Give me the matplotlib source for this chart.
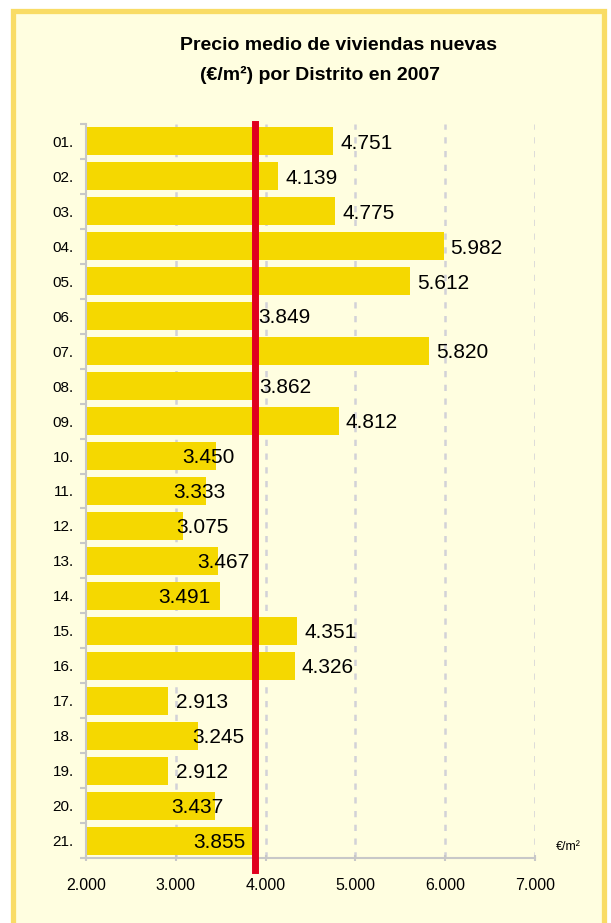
import matplotlib.pyplot as plt
from matplotlib.patches import Rectangle
import matplotlib.transforms as mtransforms
import numpy as np

plt.rcParams['font.family'] = ['Liberation Sans', 'DejaVu Sans']

districts = ["01.", "02.", "03.", "04.", "05.", "06.", "07.", "08.", "09.", "10.",
             "11.", "12.", "13.", "14.", "15.", "16.", "17.", "18.", "19.", "20.", "21."]
prices = [4751, 4139, 4775, 5982, 5612, 3849, 5820, 3862, 4812, 3450,
          3333, 3075, 3467, 3491, 4351, 4326, 2913, 3245, 2912, 3437, 3855]
madrid_avg = 3887
xticks = [2000, 3000, 4000, 5000, 6000, 7000]

# label offsets (pixels from bar end), some labels were moved by hand
label_shift = [7, 7, 7, 7, 7, 6, 7, 6, 7, -34,
               -32, -6, -20, -62, 7, 7, 8, -6, 8, -44, -59]

BG = '#FFFEE0'
BORDER = '#F9DC66'
BAR = '#F5D800'
RED = '#E0001E'
GRID = '#D2D2D8'


def fmt(v):
    return f"{v:,}".replace(",", ".")


fig = plt.figure(figsize=(6.11, 9.23), dpi=100, facecolor='white')
fig.patches.append(Rectangle((12.5 / 611, -0.02), (604 - 12.5) / 611, 1.02 - 11.5 / 923,
                             transform=fig.transFigure, facecolor=BG, edgecolor=BORDER,
                             linewidth=3.8, zorder=-1))

ax = fig.add_axes([86 / 611, 65 / 923, 449 / 611, 734 / 923])
ax.set_facecolor('none')

y = np.arange(len(districts))
ax.barh(y, [p - 2000 for p in prices], left=2000, height=0.8, color=BAR, zorder=2)

ax.set_xlim(2000, 7000)
ax.set_ylim(len(districts) - 0.5, -0.5)

ax.set_xticks(xticks)
ax.set_xticklabels([fmt(t) for t in xticks], fontsize=11.5)
ax.set_yticks(y)
ax.set_yticklabels(districts, fontsize=11)
ax.set_yticks(np.arange(len(districts) + 1) - 0.5, minor=True)
ax.tick_params(axis='y', which='major', length=0, pad=9)
ax.tick_params(axis='y', which='minor', length=4, color='#C8C8C8', width=1.5)
ax.tick_params(axis='x', which='major', length=5, direction='inout', color='#C8C8C8', width=1.5, pad=12)

for s in ['top', 'right']:
    ax.spines[s].set_visible(False)
for s in ['left', 'bottom']:
    ax.spines[s].set_color('#C8C8C8')
    ax.spines[s].set_linewidth(1.5)

for t in xticks[1:]:
    ax.axvline(t, color=GRID, linewidth=1.8, linestyle=(0, (2.5, 3)), zorder=1)

ax.axvline(madrid_avg, ymin=-12 / 734, ymax=1.0, color=RED, linewidth=5, zorder=4, clip_on=False)

for i, (p, dx) in enumerate(zip(prices, label_shift)):
    off = mtransforms.offset_copy(ax.transData, fig=fig, x=dx * 0.72, y=0, units='points')
    ax.text(p, i + 0.05, fmt(p), transform=off, ha='left', va='center', fontsize=15, zorder=5)

fig.text(568 / 611, 1 - 847 / 923, "€/m²", ha='center', va='center', fontsize=9)

fig.text(338 / 611, 1 - 46 / 923, "Precio medio de viviendas nuevas", ha='center', va='center',
         fontsize=14, fontweight='bold')
fig.text(320 / 611, 1 - 75 / 923, "(€/m²) por Distrito en 2007", ha='center', va='center',
         fontsize=14, fontweight='bold')

fig.savefig('out.png', dpi=100, facecolor=fig.get_facecolor())
